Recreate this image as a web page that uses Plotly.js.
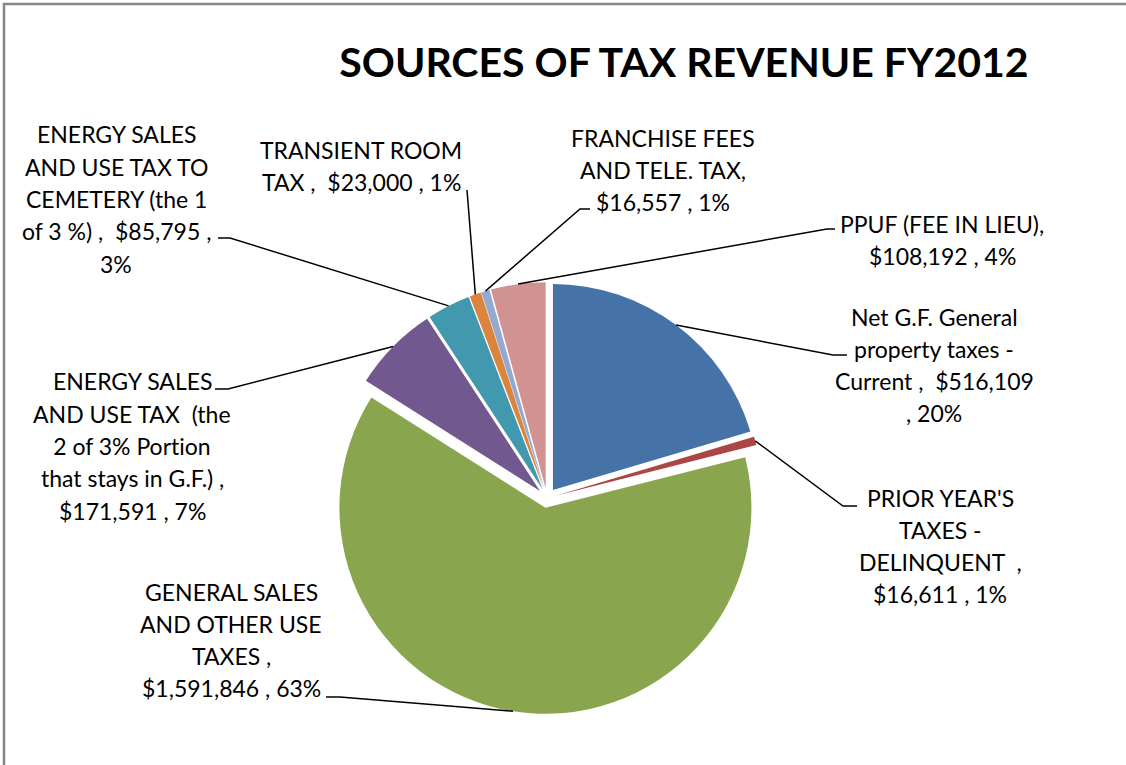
<!DOCTYPE html>
<html>
<head>
<meta charset="utf-8">
<script src="https://cdn.plot.ly/plotly-3.0.1.min.js"></script>
<style>
  html, body { margin: 0; padding: 0; background: #fff; }
  #chart { width: 1126px; height: 765px; }
  #chart text { font-variant-ligatures: none; font-feature-settings: "liga" 0; }
</style>
</head>
<body>
<div id="chart"></div>
<script>
// ---- data ----
const categories = [
  "Net G.F. General property taxes - Current",
  "PRIOR YEAR'S TAXES - DELINQUENT",
  "GENERAL SALES AND OTHER USE TAXES",
  "ENERGY SALES AND USE TAX (the 2 of 3% Portion that stays in G.F.)",
  "ENERGY SALES AND USE TAX TO CEMETERY (the 1 of 3 %)",
  "TRANSIENT ROOM TAX",
  "FRANCHISE FEES AND TELE. TAX",
  "PPUF (FEE IN LIEU)"
];
const values = [516109, 16611, 1591846, 171591, 85795, 23000, 16557, 108192];
const labelTexts = [
  "Net G.F. General<br>property taxes -<br>Current ,  $516,109<br>, 20%",
  "PRIOR YEAR'S<br>TAXES -<br>DELINQUENT  ,<br>$16,611 , 1%",
  "GENERAL SALES<br>AND OTHER USE<br>TAXES ,<br>$1,591,846 , 63%",
  "ENERGY SALES<br>AND USE TAX  (the<br>2 of 3% Portion<br>that stays in G.F.) ,<br>$171,591 , 7%",
  "ENERGY SALES<br>AND USE TAX TO<br>CEMETERY (the 1<br>of 3 %) ,  $85,795 ,<br>3%",
  "TRANSIENT ROOM<br>TAX ,  $23,000 , 1%",
  "FRANCHISE FEES<br>AND TELE. TAX,<br>$16,557 , 1%",
  "PPUF (FEE IN LIEU),<br>$108,192 , 4%"
];
const colors = ["#4572A7", "#AA4643", "#89A54E", "#71588F", "#4198AF", "#DB843D", "#93A9CF", "#D19392"];

// ---- layout geometry (pixels) ----
const W = 1126, H = 765;
const CX = 547, CY = 498, R = 206, PULL = 0.048;
const LINE_H = 32.3;
// label centres [x, y] and leader line bend / end points
const labelPos = [[934, 365], [940, 546], [231, 640], [132, 446], [116, 199], [361, 166], [663, 170], [942, 240]];
const leaderBend = [[833, 355], [843, 506], [340, 697], [228, 389], [230, 238], [467, 190], [580, 209], [827, 229]];
const leaderEnd  = [[847, 355], [857, 506], [326, 697], [215, 389], [218, 238], [467, 190], [590, 209], [835, 229]];

const half = R * (1 + PULL);
const domain = {
  x: [(CX - half) / W, (CX + half) / W],
  y: [(H - CY - half) / H, (H - CY + half) / H]
};

const px = x => x / W;
const py = y => 1 - y / H;

// leader line start points from slice mid-angles
const total = values.reduce((a, b) => a + b, 0);
let cum = 0;
const shapes = [];
values.forEach((v, i) => {
  const mid = (cum + v / 2) / total * 2 * Math.PI;
  cum += v;
  const ex = CX + half * Math.sin(mid);
  const ey = CY - half * Math.cos(mid);
  const b = leaderBend[i], e = leaderEnd[i];
  shapes.push({
    type: 'path', xref: 'paper', yref: 'paper',
    path: `M ${px(ex)} ${py(ey)} L ${px(b[0])} ${py(b[1])} L ${px(e[0])} ${py(e[1])}`,
    line: { color: '#000', width: 1.5 }
  });
});
// chart border (partially visible)
shapes.push({
  type: 'rect', xref: 'paper', yref: 'paper',
  x0: px(4), x1: 1.2, y0: -0.2, y1: py(4),
  line: { color: '#868686', width: 2.5 }
});

const annotations = [];
labelTexts.forEach((t, i) => {
  const lines = t.split('<br>');
  const n = lines.length;
  lines.forEach((ln, k) => {
    annotations.push({
      text: ln, xref: 'paper', yref: 'paper',
      x: px(labelPos[i][0]), y: py(labelPos[i][1] + (k - (n - 1) / 2) * LINE_H),
      xanchor: 'center', yanchor: 'middle', align: 'center',
      showarrow: false,
      font: { family: 'Lato, "Liberation Sans", sans-serif', size: 23, color: '#000' }
    });
  });
});

const trace = {
  type: 'pie',
  labels: categories,
  values: values,
  marker: { colors: colors, line: { width: 0 } },
  sort: false,
  direction: 'clockwise',
  rotation: 0,
  pull: values.map(() => PULL),
  textinfo: 'none',
  hoverinfo: 'label+value+percent',
  showlegend: false,
  domain: domain
};

const layout = {
  width: W, height: H,
  margin: { l: 0, r: 0, t: 0, b: 0 },
  paper_bgcolor: '#fff',
  title: {
    text: '<b>SOURCES OF TAX REVENUE FY2012</b>',
    x: 684 / W, xanchor: 'center',
    y: 1 - 63 / H, yanchor: 'middle',
    font: { family: 'Lato, "Liberation Sans", sans-serif', size: 41, color: '#000' }
  },
  showlegend: false,
  shapes: shapes,
  annotations: annotations
};

Plotly.newPlot('chart', [trace], layout, { displayModeBar: false, staticPlot: true });
</script>
</body>
</html>
